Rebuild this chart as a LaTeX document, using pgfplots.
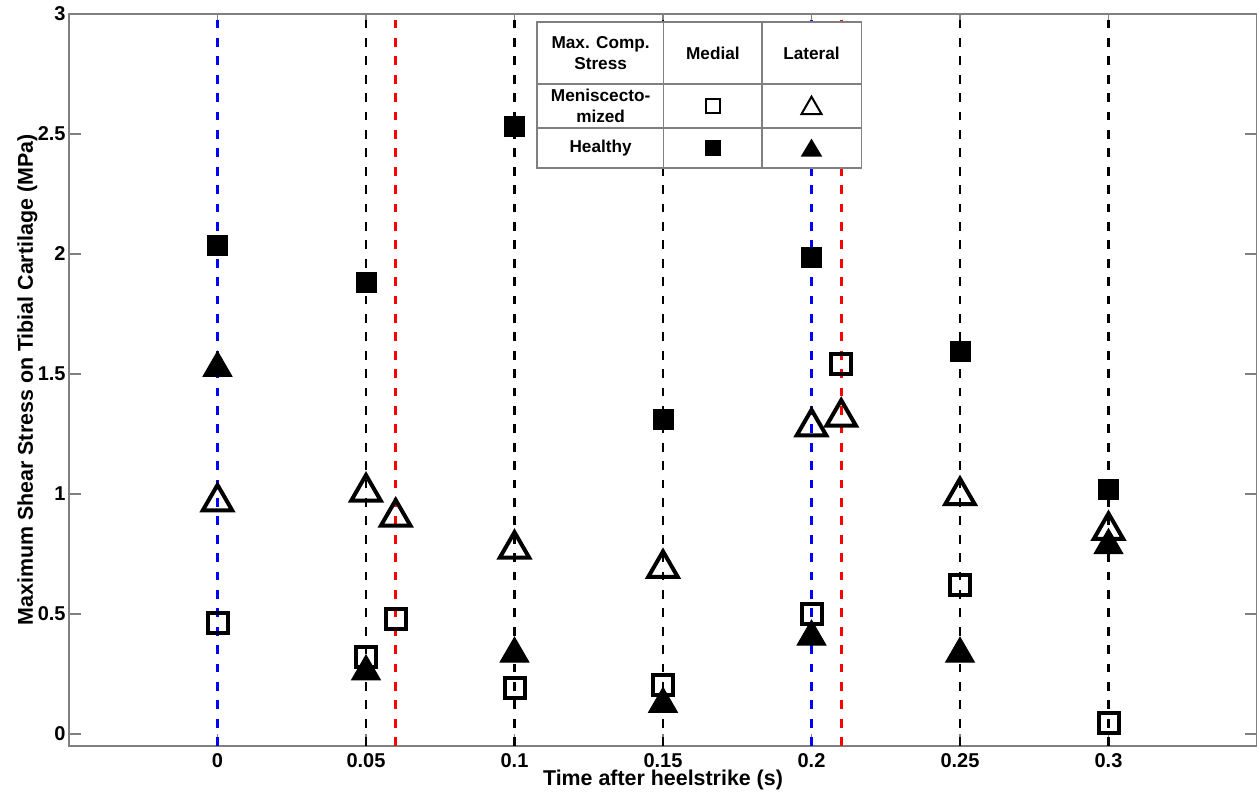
\documentclass[border=0pt]{standalone}
\usepackage{fontspec}
\setmainfont{Liberation Sans}
\usepackage{pgfplots}
\pgfplotsset{compat=1.18}
\begin{document}
\begin{tikzpicture}
\path[use as bounding box] (-34.5pt,-24.5pt) rectangle (594pt,373pt);
\begin{axis}[
  scale only axis, width=594pt, height=366pt,
  at={(0,0)}, anchor=south west,
  xmin=-0.05, xmax=0.35, ymin=-0.05, ymax=3,
  xtick={0,0.05,0.1,0.15,0.2,0.25,0.3},
  xticklabels={0,0.05,0.1,0.15,0.2,0.25,0.3},
  ytick={0,0.5,1,1.5,2,2.5,3},
  yticklabels={0,0.5,1,1.5,2,2.5,3},
  tick align=inside, major tick length=6pt,
  axis line style={black!50, line width=0.6pt},
  every tick/.style={black!50, line width=0.6pt},
  tick label style={font=\fontsize{10}{12}\selectfont\bfseries},
  yticklabel style={inner xsep=1.5pt},
  xticklabel style={inner ysep=0.5pt, yshift=-3pt},
  xlabel={Time after heelstrike (s)},
  ylabel={Maximum Shear Stress on Tibial Cartilage (MPa)},
  label style={font=\fontsize{10.7}{12}\selectfont\bfseries},
  xlabel style={at={(axis description cs:0.5,0)}, anchor=base, yshift=-20pt, inner sep=0.5pt},
  ylabel style={at={(axis description cs:-0.0303,0.5)}, anchor=base},
  clip=true,
]
% vertical reference lines
\addplot[blue, line width=1.4pt, dash pattern=on 4.4pt off 4.8pt] coordinates {(0,-0.05) (0,3)};
\addplot[blue, line width=1.4pt, dash pattern=on 4.4pt off 4.8pt] coordinates {(0.2,-0.05) (0.2,3)};
\addplot[red, line width=1.4pt, dash pattern=on 4.4pt off 4.8pt] coordinates {(0.06,-0.05) (0.06,3)};
\addplot[red, line width=1.4pt, dash pattern=on 4.4pt off 4.8pt] coordinates {(0.21,-0.05) (0.21,3)};
\addplot[black, line width=1.4pt, dash pattern=on 4.4pt off 4.8pt] coordinates {(0.05,-0.05) (0.05,3)};
\addplot[black, line width=1.4pt, dash pattern=on 4.4pt off 4.8pt] coordinates {(0.1,-0.05) (0.1,3)};
\addplot[black, line width=1.4pt, dash pattern=on 4.4pt off 4.8pt] coordinates {(0.15,-0.05) (0.15,3)};
\addplot[black, line width=1.4pt, dash pattern=on 4.4pt off 4.8pt] coordinates {(0.25,-0.05) (0.25,3)};
\addplot[black, line width=1.4pt, dash pattern=on 4.4pt off 4.8pt] coordinates {(0.3,-0.05) (0.3,3)};
% meniscectomized medial (open squares)
\addplot[only marks, mark=square, mark size=5pt, mark options={black, line width=2pt, solid}]
  coordinates {(0,0.464) (0.05,0.322) (0.06,0.478) (0.1,0.192) (0.15,0.205) (0.2,0.50) (0.21,1.54) (0.25,0.62) (0.3,0.046)};
% meniscectomized lateral (open triangles)
\addplot[only marks, mark=triangle, mark size=8.5pt, mark options={black, line width=2pt, solid}]
  coordinates {(0,0.967) (0.05,1.008) (0.06,0.904) (0.1,0.77) (0.15,0.69) (0.2,1.28) (0.21,1.32) (0.25,0.993) (0.3,0.848)};
% healthy medial (filled squares)
\addplot[only marks, mark=square*, mark size=5pt, mark options={black, fill=black, line width=0.5pt, solid}]
  coordinates {(0,2.037) (0.05,1.881) (0.1,2.532) (0.15,1.312) (0.2,1.985) (0.25,1.594) (0.3,1.02)};
% healthy lateral (filled triangles)
\addplot[only marks, mark=triangle*, mark size=8.3pt, mark options={black, fill=black, line width=0.5pt, solid}]
  coordinates {(0,1.525) (0.05,0.26) (0.1,0.334) (0.15,0.125) (0.2,0.405) (0.25,0.334) (0.3,0.786)};
% legend table
\draw[fill=white, draw=black!50, line width=0.6pt] (axis cs:0.1076,2.358) rectangle (axis cs:0.2167,2.967);
\draw[black!50, line width=0.6pt] (axis cs:0.1076,2.708) -- (axis cs:0.2167,2.708);
\draw[black!50, line width=0.6pt] (axis cs:0.1076,2.525) -- (axis cs:0.2167,2.525);
\draw[black!50, line width=0.6pt] (axis cs:0.1503,2.358) -- (axis cs:0.1503,2.967);
\draw[black!50, line width=0.6pt] (axis cs:0.1833,2.358) -- (axis cs:0.1833,2.967);
\begin{scope}[every node/.style={font=\fontsize{8.6}{10.6}\selectfont\bfseries, align=center, inner sep=0pt}]
\node at (axis cs:0.1290,2.8375) {Max. Comp.\\Stress};
\node at (axis cs:0.1668,2.8375) {Medial};
\node at (axis cs:0.2000,2.8375) {Lateral};
\node at (axis cs:0.1290,2.6165) {Meniscecto-\\mized};
\node at (axis cs:0.1290,2.4415) {Healthy};
\end{scope}
\draw[black, line width=1pt] (axis cs:0.1668,2.6165) ++(-3.65pt,-3.65pt) rectangle ++(7.3pt,7.3pt);
\draw[black, line width=1pt, line join=miter] (axis cs:0.2000,2.6165) ++(-5pt,-4pt) -- ++(10pt,0pt) -- ++(-5pt,8.66pt) -- cycle;
\fill[black] (axis cs:0.1668,2.4415) ++(-4pt,-4pt) rectangle ++(8pt,8pt);
\fill[black] (axis cs:0.2000,2.4415) ++(-5.4pt,-4.3pt) -- ++(10.8pt,0pt) -- ++(-5.4pt,9pt) -- cycle;
\end{axis}
\end{tikzpicture}
\end{document}
